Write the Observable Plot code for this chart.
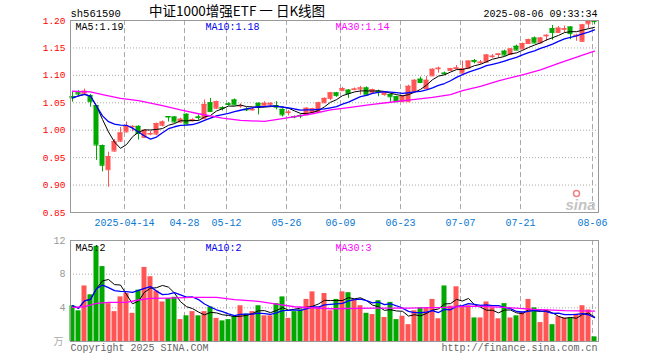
<!DOCTYPE html>
<html><head><meta charset="utf-8">
<script src="https://cdn.jsdelivr.net/npm/d3@7"></script>
<script src="https://cdn.jsdelivr.net/npm/@observablehq/plot@0.6"></script>
<style>
html,body{margin:0;padding:0;background:#fff;}
#wrap{position:relative;width:660px;height:360px;overflow:hidden;background:#fff;}
#wrap svg{position:absolute;left:0;}
</style></head><body><div id="wrap"></div>
<script>
// ---- data ----
const symbol = "sh561590";
const title = "中证1000增强ETF 一 日K线图";
const stamp = "2025-08-06 09:33:34";

const openP  = [1.061,1.068,1.066,1.063,1.045,0.972,0.928,0.962,0.980,0.997,
                1.006,1.007,0.987,0.993,0.993,1.009,1.025,1.024,1.015,1.029,
                1.017,1.024,1.021,1.050,1.040,1.041,1.048,1.055,1.044,1.038,
                1.037,1.049,1.044,1.046,1.045,1.038,1.032,1.025,1.027,1.028,
                1.032,1.034,1.050,1.058,1.068,1.072,1.073,1.074,1.075,1.077,
                1.068,1.071,1.065,1.065,1.061,1.052,1.052,1.070,1.093,1.076,
                1.099,1.112,1.104,1.109,1.1125,1.104,1.113,1.127,1.123,1.124,
                1.134,1.138,1.144,1.138,1.153,1.148,1.158,1.168,1.159,1.172,
                1.185,1.178,1.184,1.188,1.172,1.162,1.194,1.199];
const highP  = [1.069,1.072,1.075,1.065,1.045,0.973,0.960,0.983,1.005,1.015,
                1.008,1.008,1.001,0.998,1.013,1.017,1.025,1.025,1.022,1.030,
                1.021,1.028,1.055,1.058,1.053,1.043,1.050,1.057,1.048,1.041,
                1.041,1.050,1.052,1.050,1.052,1.039,1.036,1.026,1.028,1.041,
                1.040,1.051,1.059,1.069,1.069,1.078,1.074,1.077,1.080,1.079,
                1.075,1.073,1.070,1.066,1.062,1.063,1.082,1.092,1.097,1.098,
                1.112,1.115,1.106,1.113,1.118,1.126,1.126,1.129,1.127,1.138,
                1.138,1.139,1.146,1.149,1.155,1.159,1.166,1.170,1.169,1.174,
                1.191,1.189,1.190,1.189,1.175,1.193,1.200,1.200];
const lowP   = [1.051,1.063,1.065,1.042,0.945,0.924,0.896,0.960,0.978,0.995,
                0.997,0.982,0.985,0.990,0.990,1.006,1.015,1.013,1.013,1.010,
                1.015,1.018,1.020,1.033,1.038,1.035,1.044,1.045,1.040,1.034,
                1.035,1.028,1.043,1.045,1.037,1.024,1.026,1.021,1.021,1.027,
                1.031,1.033,1.049,1.054,1.060,1.071,1.058,1.072,1.064,1.062,
                1.066,1.061,1.062,1.051,1.052,1.051,1.051,1.069,1.085,1.075,
                1.098,1.104,1.100,1.108,1.110,1.103,1.112,1.121,1.120,1.123,
                1.131,1.131,1.135,1.137,1.145,1.147,1.157,1.158,1.158,1.162,
                1.164,1.177,1.178,1.165,1.162,1.160,1.185,1.192];
const closeP = [1.059,1.066,1.071,1.052,0.973,0.936,0.952,0.979,0.995,1.007,
                1.007,0.994,1.000,0.994,1.012,1.015,1.024,1.015,1.020,1.011,
                1.019,1.023,1.047,1.034,1.052,1.040,1.047,1.046,1.045,1.037,
                1.038,1.042,1.049,1.049,1.042,1.028,1.033,1.024,1.026,1.040,
                1.039,1.050,1.058,1.068,1.063,1.076,1.067,1.075,1.077,1.064,
                1.074,1.069,1.069,1.061,1.052,1.062,1.080,1.091,1.087,1.091,
                1.111,1.113,1.103,1.112,1.1135,1.112,1.126,1.125,1.124,1.137,
                1.135,1.139,1.137,1.148,1.146,1.158,1.165,1.159,1.168,1.173,
                1.178,1.186,1.185,1.176,1.173,1.192,1.199,1.198];
const volume = [4.25,3.65,6.6,5.55,11.3,8.9,4.5,3.55,5.3,5.7,
                3.35,6.1,8.8,7.7,6.0,4.7,5.1,5.25,2.6,3.05,
                3.55,3.05,3.55,4.1,2.75,2.45,2.6,2.95,4.25,3.25,
                3.55,4.25,3.05,3.05,4.5,5.3,2.75,3.55,3.75,5.0,
                5.9,4.1,5.7,3.65,5.0,5.9,5.8,5.0,4.25,3.35,
                3.2,4.85,2.85,4.65,2.6,3.0,2.0,3.65,4.0,4.0,
                5.0,2.7,6.6,4.2,6.5,4.05,4.25,2.8,2.8,4.7,
                4.0,2.7,4.5,2.8,3.05,3.45,5.0,4.0,2.25,3.75,
                2.0,2.95,2.8,2.8,3.25,4.25,3.75,0.55];

// MA30 lines (they need days before the window)
const ma30Idx = [0,3,5,8,11,15,18,21,25,28,32,35,40,43,46,50,53,56,60,63,65,68,71,75,78,81,85,87];
const ma30Val = [1.071,1.070,1.065,1.058,1.054,1.045,1.037,1.030,1.022,1.018,1.016,1.021,1.030,1.037,1.041,1.047,1.051,1.055,1.060,1.065,1.072,1.080,1.090,1.101,1.110,1.122,1.137,1.144];
const volMa30Idx = [0,2,4,6,9,11,13,16,20,24,27,31,34,37,43,50,56,62,67,72,77,82,87];
const volMa30Val = [4.05,4.13,4.53,4.65,4.65,4.93,5.12,5.16,5.24,5.24,4.97,4.77,4.45,4.13,3.89,3.97,3.97,4.05,4.21,4.05,3.81,3.66,3.62];

const tickIdx = [9,19,26,36,45,55,65,75,87];
const tickLabels = ["2025-04-14","04-28","05-12","05-26","06-09","06-23","07-07","07-21","08-06"];
const priceTicks = [0.85,0.90,0.95,1.00,1.05,1.10,1.15,1.20];
const volTicks = [4,8,12];
const priceMaLabels = ["MA5:1.19","MA10:1.18","MA30:1.14"];
const volMaLabels = ["MA5:2","MA10:2","MA30:3"];
const volUnit = "万";
const copyright = "Copyright 2025 SINA.COM";
const url = "http://finance.sina.com.cn";

// ---- build ----
const RED = "#ff5555", GREEN = "#00a800";
const MA5C = "#000000", MA10C = "#0000ff", MA30C = "#ff00ff";
const candles = openP.map((o, i) => ({
  i, o, h: highP[i], l: lowP[i], c: closeP[i], v: volume[i],
  col: closeP[i] >= openP[i] ? RED : GREEN
}));
const ma30 = ma30Idx.map((i, k) => ({i, v: ma30Val[k]}));
const volMa30 = volMa30Idx.map((i, k) => ({i, v: volMa30Val[k]}));
const labelOf = new Map(tickIdx.map((d, k) => [d, tickLabels[k]]));
const HW = 2.5 / 6;
const xDomain = [-1/3, 88 - 1/3];
const mono = "Liberation Mono, DejaVu Sans Mono, monospace";
const hasAxis = typeof Plot.axisX === "function";
const wrap = document.getElementById("wrap");

const maText = (labels, dy, colors) => labels.map((t, k) =>
  Plot.text([t], {frameAnchor: "top-left", dx: 5 + 130 * k, dy, textAnchor: "start",
    lineAnchor: "top", fill: colors[k], fontSize: 10, fontFamily: mono}));

// price panel
const priceMarks = [
  Plot.ruleY(priceTicks.slice(1, -1), {stroke: "#aaa", strokeDasharray: "1,2"}),
  Plot.ruleX(tickIdx, {dx: -2, stroke: "#aaa", strokeDasharray: "5,3"}),
  Plot.ruleX(candles, {x: "i", y1: "l", y2: "h", stroke: "col"}),
  Plot.rect(candles, {x1: d => d.i - HW, x2: d => d.i + HW, y1: "o", y2: "c", fill: "col"}),
  Plot.ruleY(candles, {y: "o", x1: d => d.i - HW, x2: d => d.i + HW, stroke: "col"}),
  Plot.ruleY(candles, {y: "c", x1: d => d.i - HW, x2: d => d.i + HW, stroke: "col"}),
  Plot.lineY(candles, Plot.windowY({k: 5, anchor: "end"}, {x: "i", y: "c", stroke: MA5C, strokeWidth: 1})),
  Plot.lineY(candles, Plot.windowY({k: 10, anchor: "end"}, {x: "i", y: "c", stroke: MA10C, strokeWidth: 1.3})),
  Plot.line(ma30, {x: "i", y: "v", stroke: MA30C, strokeWidth: 1.3}),
  Plot.frame({stroke: "#999"}),
  ...maText(priceMaLabels, 2, [MA5C, "#0000ee", MA30C]),
  Plot.text([symbol], {frameAnchor: "top-left", dy: -3.5, lineAnchor: "bottom", textAnchor: "start", fill: "#000", fontSize: 10.5, fontFamily: mono}),
  Plot.text([title], {frameAnchor: "top-left", dx: 166.5, dy: -4.5, lineAnchor: "bottom", textAnchor: "middle", fill: "#000", fontSize: 13.5, fontFamily: "Noto Sans CJK SC"}),
  Plot.text([stamp], {frameAnchor: "top-right", dx: -1, dy: -3.5, lineAnchor: "bottom", textAnchor: "end", fill: "#000", fontSize: 10, fontFamily: mono}),
  Plot.text(["sina"], {frameAnchor: "bottom-right", dx: -3, dy: -3, lineAnchor: "bottom", textAnchor: "end", fill: "#c4c4c4", fontSize: 15, fontWeight: "bold", fontStyle: "italic", fontFamily: "Liberation Sans"}),
  Plot.dot([0], {frameAnchor: "bottom-right", dx: -22, dy: -19, r: 3, stroke: "#f08080", strokeWidth: 1.5, fill: "none"})
];
if (hasAxis) {
  priceMarks.push(
    Plot.axisY(priceTicks, {anchor: "left", tickSize: 0, tickPadding: 5, tickFormat: d => d.toFixed(2), fill: "#ff0000", fontSize: 9.5, fontFamily: mono, label: null}),
    Plot.axisX(tickIdx, {anchor: "bottom", tickSize: 0, tickPadding: 6, tickFormat: d => labelOf.get(d), dx: -2, fill: "#0a78d2", fontSize: 10, fontFamily: mono, label: null})
  );
}
const price = Plot.plot({
  width: 660, height: 232, marginLeft: 70, marginRight: 62, marginTop: 20, marginBottom: 20,
  style: {background: "transparent", fontFamily: mono, fontSize: "10px", overflow: "visible"},
  x: hasAxis ? {domain: xDomain} : {domain: xDomain, ticks: tickIdx, tickFormat: d => labelOf.get(d), tickSize: 0, label: null},
  y: hasAxis ? {domain: [0.85, 1.20]} : {domain: [0.85, 1.20], ticks: priceTicks, tickFormat: d => d.toFixed(2), tickSize: 0, label: null},
  color: {type: "identity"},
  marks: priceMarks
});
price.style.top = "0px";
wrap.appendChild(price);

// volume panel
const volMarks = [
  Plot.ruleY([4, 8], {stroke: "#aaa", strokeDasharray: "1,2"}),
  Plot.ruleX(tickIdx, {dx: -2, stroke: "#aaa", strokeDasharray: "5,3"}),
  Plot.rect(candles, {x1: d => d.i - HW, x2: d => d.i + HW, y1: 0, y2: "v", fill: "col"}),
  Plot.lineY(candles, Plot.windowY({k: 5, anchor: "end"}, {x: "i", y: "v", stroke: MA5C, strokeWidth: 1})),
  Plot.lineY(candles, Plot.windowY({k: 10, anchor: "end"}, {x: "i", y: "v", stroke: MA10C, strokeWidth: 1.3})),
  Plot.line(volMa30, {x: "i", y: "v", stroke: MA30C, strokeWidth: 1.3}),
  Plot.frame({stroke: "#999"}),
  ...maText(volMaLabels, 3, [MA5C, "#0000ee", MA30C]),
  Plot.text([volUnit], {frameAnchor: "bottom-left", dx: -7, dy: 0, textAnchor: "end", lineAnchor: "middle", fill: "#aaa", fontSize: 10, fontFamily: "Noto Sans CJK SC"}),
  Plot.text([copyright], {frameAnchor: "bottom-left", dy: 9, lineAnchor: "bottom", textAnchor: "start", fill: "#666", fontSize: 10, fontFamily: mono}),
  Plot.text([url], {frameAnchor: "bottom-right", dx: -1, dy: 9, lineAnchor: "bottom", textAnchor: "end", fill: "#666", fontSize: 10, fontFamily: mono})
];
if (hasAxis) {
  volMarks.push(Plot.axisY(volTicks, {anchor: "left", tickSize: 0, tickPadding: 5, fill: "#999", fontSize: 10, fontFamily: mono, label: null}));
}
const vol = Plot.plot({
  width: 660, height: 130, marginLeft: 70, marginRight: 62, marginTop: 10, marginBottom: 19,
  style: {background: "transparent", fontFamily: mono, fontSize: "10px", overflow: "visible"},
  x: {domain: xDomain, axis: null},
  y: hasAxis ? {domain: [0, 12]} : {domain: [0, 12], ticks: volTicks, tickSize: 0, label: null},
  color: {type: "identity"},
  marks: volMarks
});
vol.style.top = "230px";
wrap.appendChild(vol);
</script>
</body></html>
